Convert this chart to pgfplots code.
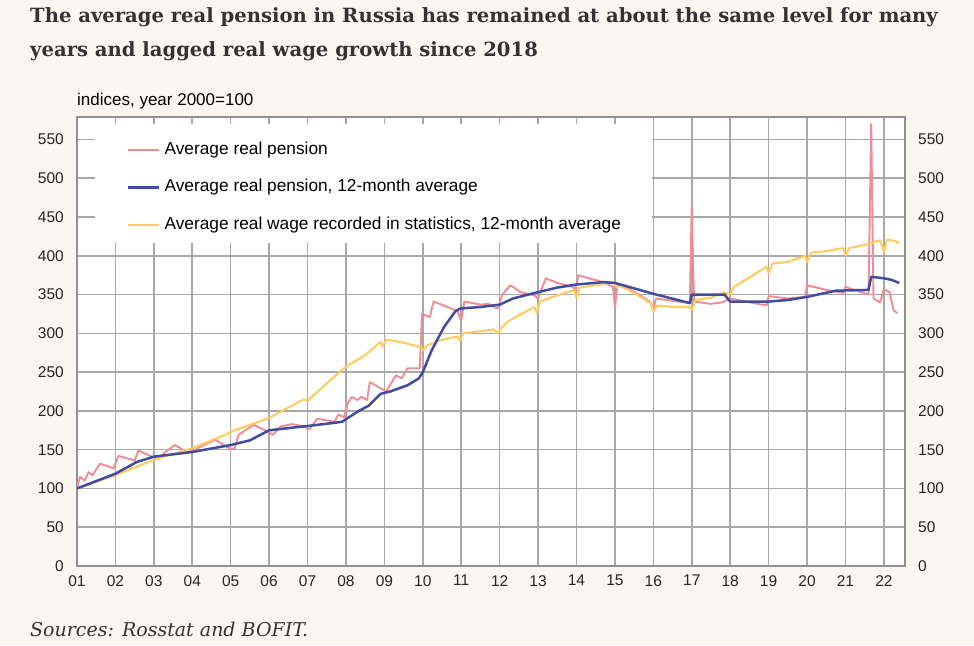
\documentclass[border=0pt]{standalone}
\usepackage{pgfplots}
\pgfplotsset{compat=1.18}
\usepackage{fontspec}
\setmainfont{Liberation Sans}
\newfontfamily\serif{DejaVu Serif}
\definecolor{bgc}{RGB}{250,246,240}
\definecolor{pinkc}{RGB}{240,140,150}
\definecolor{bluec}{RGB}{66,76,158}
\definecolor{yelc}{RGB}{255,204,98}
\definecolor{gridc}{RGB}{168,168,168}
\definecolor{framec}{RGB}{145,145,145}
\definecolor{titc}{RGB}{51,51,51}

\begin{document}
\begin{tikzpicture}[x=1pt,y=1pt]
\fill[bgc] (0,0) rectangle (974,645);
\node[anchor=base west, inner sep=0pt, font=\serif\bfseries\fontsize{19.6}{24}\selectfont, text=titc] at (30,622.7) {The average real pension in Russia has remained at about the same level for many};
\node[anchor=base west, inner sep=0pt, font=\serif\bfseries\fontsize{19.6}{24}\selectfont, text=titc] at (30,588.3) {years and lagged real wage growth since 2018};
\node[anchor=base west, inner sep=0pt, font=\serif\itshape\fontsize{19}{23}\selectfont, text=titc] at (30,8.3) {Sources: Rosstat and BOFIT.};
\node[anchor=base west, inner sep=0pt, font=\fontsize{17}{20}\selectfont] at (77,539) {indices, year 2000=100};

\begin{axis}[
  at={(77pt,79pt)}, anchor=south west, scale only axis,
  width=828pt, height=449pt,
  xmin=2001, xmax=2022.55, ymin=0, ymax=579,
  axis background/.style={fill=white},
  xtick={2001,2002,2003,2004,2005,2006,2007,2008,2009,2010,2011,2012,2013,2014,2015,2016,2017,2018,2019,2020,2021,2022},
  xticklabels={01,02,03,04,05,06,07,08,09,10,11,12,13,14,15,16,17,18,19,20,21,22},
  ytick={0,50,100,150,200,250,300,350,400,450,500,550},
  grid=major, major grid style={gridc, line width=1.6pt},
  major tick length=0pt,
  axis line style={framec, line width=1.6pt},
  ticklabel style={font=\fontsize{15.5}{18}\selectfont, text=black!85},
  /pgf/number format/assume math mode=true,
  xticklabel style={anchor=north, inner sep=0pt, yshift=-9pt},
  yticklabel style={anchor=east, inner sep=0pt, xshift=-13pt},
  legend cell align=left,
  legend style={draw=none, fill=none, inner sep=0pt, at={(0.0604,0.9443)}, anchor=north west,
    row sep=21.5pt, column sep=1.5pt,
    nodes={inner xsep=2.5pt, inner ysep=0pt, text height=12pt, text depth=4pt, font=\fontsize{17.3}{20}\selectfont}},
  legend image code/.code={\draw[#1] (0pt,0pt) -- (31pt,0pt);},
]
\fill[white] (axis cs:2001.47,416) rectangle (axis cs:2015.97,570.6);
\addlegendimage{pinkc, line width=2pt}
\addlegendentry{Average real pension}
\addlegendimage{bluec, line width=2.4pt}
\addlegendentry{Average real pension, 12-month average}
\addlegendimage{yelc, line width=2.2pt}
\addlegendentry{Average real wage recorded in statistics, 12-month average}

% Average real pension (monthly)
\addplot[pinkc, line width=1.9pt, line join=round, forget plot] coordinates {
(2001.0,101) (2001.08,115) (2001.2,110) (2001.3,121) (2001.4,117) (2001.6,132) (2001.95,126)
(2002.08,142) (2002.5,136) (2002.6,149) (2002.95,141) (2003.15,139) (2003.3,147) (2003.55,156)
(2003.85,147) (2004.05,149) (2004.3,156) (2004.6,163) (2004.95,152) (2005.1,151) (2005.2,169)
(2005.6,182) (2005.9,175) (2006.1,169) (2006.3,180) (2006.6,183) (2006.9,180) (2007.05,176)
(2007.25,190) (2007.7,186) (2007.8,195) (2007.95,192) (2008.05,210) (2008.15,218) (2008.3,214)
(2008.4,218) (2008.55,214) (2008.62,237) (2008.95,228) (2009.05,225) (2009.3,246) (2009.45,242)
(2009.6,255) (2009.92,255) (2009.98,325) (2010.18,321) (2010.28,341) (2010.9,329) (2011.0,317)
(2011.08,341) (2011.3,339) (2011.5,337) (2011.7,338) (2011.95,332) (2012.08,351) (2012.28,362)
(2012.55,353) (2012.9,349) (2013.0,345) (2013.2,371) (2013.5,365) (2013.9,360) (2013.97,355)
(2014.05,375) (2014.25,372) (2014.7,366) (2014.95,360) (2015.0,334) (2015.07,364) (2015.6,351)
(2015.9,341) (2016.0,332) (2016.07,345) (2016.5,342) (2016.95,339) (2017.0,465) (2017.06,341)
(2017.5,338) (2017.8,340) (2018.0,345) (2018.5,340) (2018.95,336) (2019.0,348) (2019.5,345)
(2019.95,347) (2020.0,362) (2020.5,356) (2020.95,352) (2021.0,360) (2021.6,350) (2021.67,570)
(2021.73,345) (2021.9,340) (2022.0,357) (2022.15,353) (2022.25,330) (2022.35,326)
};
% Average real wage, 12-month average
\addplot[yelc, line width=2.1pt, line join=round, forget plot] coordinates {
(2001.0,100) (2002.0,117) (2002.55,128) (2003.0,137) (2004.0,152) (2004.9,170) (2005.0,173)
(2006.0,191) (2006.9,215) (2007.0,213) (2007.6,240) (2008.0,257) (2008.5,272) (2008.9,289)
(2008.95,283) (2009.05,292) (2009.5,288) (2009.95,282) (2010.0,278) (2010.1,284) (2010.45,291)
(2010.9,296) (2010.97,290) (2011.05,300) (2011.85,305) (2011.95,300) (2012.05,307) (2012.2,315)
(2012.9,334) (2012.97,326) (2013.05,341) (2013.5,349) (2013.95,356) (2014.0,346) (2014.08,359)
(2014.5,362) (2014.95,366) (2015.05,359) (2015.1,362) (2015.5,352) (2015.95,338) (2016.0,328)
(2016.1,336) (2016.5,334) (2016.95,334) (2017.0,330) (2017.1,343) (2017.5,346) (2017.85,353)
(2018.0,350) (2018.1,360) (2018.5,372) (2018.95,386) (2019.0,378) (2019.1,390) (2019.5,392)
(2019.95,400) (2020.0,392) (2020.1,404) (2020.5,406) (2020.95,410) (2021.0,400) (2021.1,410)
(2021.5,414) (2021.9,420) (2022.0,405) (2022.08,421) (2022.3,419) (2022.4,416)
};
% Average real pension, 12-month average
\addplot[bluec, line width=2.5pt, line join=round, forget plot] coordinates {
(2001.0,100) (2002.0,119) (2002.55,134) (2003.0,141) (2004.0,147) (2005.0,156) (2005.5,162)
(2006.0,175) (2006.9,180) (2007.6,184) (2007.9,186) (2008.3,199) (2008.6,207) (2008.9,222)
(2009.15,225) (2009.6,233) (2009.9,242) (2010.0,250) (2010.23,278) (2010.55,308) (2010.84,328)
(2010.97,332) (2011.5,334) (2012.0,337) (2012.35,345) (2012.9,352) (2013.5,359) (2014.0,363) (2014.7,366)
(2015.0,365) (2016.0,351) (2016.95,339) (2017.0,350) (2017.85,350) (2018.0,341) (2019.0,341)
(2019.5,343) (2020.0,347) (2020.75,355) (2021.6,356) (2021.67,373) (2022.0,371) (2022.2,369)
(2022.4,365)
};
\end{axis}

\begin{axis}[
  at={(77pt,79pt)}, anchor=south west, scale only axis,
  width=828pt, height=449pt,
  xmin=2001, xmax=2022.55, ymin=0, ymax=579,
  hide x axis, axis y line*=right, y axis line style={draw=none},
  ytick={0,50,100,150,200,250,300,350,400,450,500,550},
  major tick length=0pt,
  ticklabel style={font=\fontsize{15.5}{18}\selectfont, text=black!85},
  /pgf/number format/assume math mode=true,
  yticklabel style={anchor=west, inner sep=0pt, xshift=13pt},
]
\end{axis}
\end{tikzpicture}
\end{document}
